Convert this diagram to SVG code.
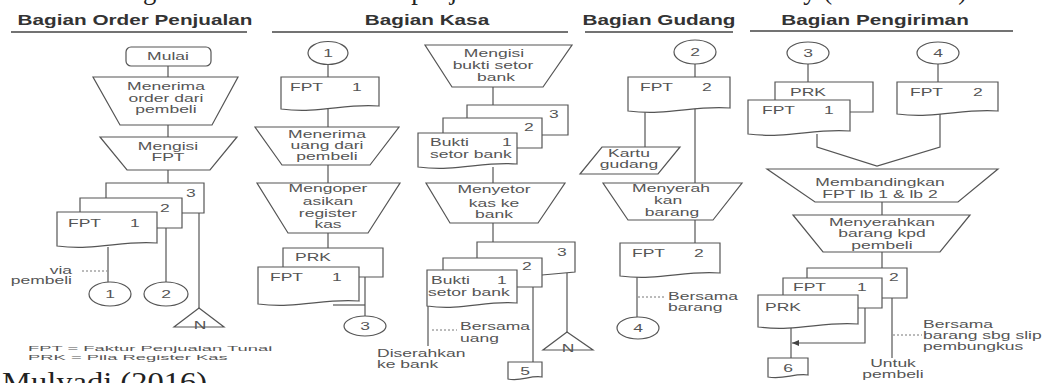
<svg xmlns="http://www.w3.org/2000/svg" width="1044" height="383" viewBox="0 0 1044 383">
<style>
.s{fill:none;stroke:#555;stroke-width:1.2}
.f{fill:#fff;stroke:#555;stroke-width:1.2}
.d{fill:none;stroke:#777;stroke-width:1;stroke-dasharray:2 2}
.u{stroke:#444;stroke-width:1.6}
.t{font-family:"Liberation Sans",Arial,sans-serif;font-size:10px;fill:#555}
.m{text-anchor:middle}
.h{font-family:"Liberation Sans",Arial,sans-serif;font-size:14px;font-weight:bold;fill:#333;text-anchor:middle}
.sf{font-family:"Liberation Serif","Times New Roman",serif;font-size:26.7px;fill:#222}
</style>
<defs>
<marker id="ar" markerWidth="8" markerHeight="8" refX="7" refY="4" orient="auto" markerUnits="userSpaceOnUse">
<path d="M0,1 L7,4 L0,7 Z" fill="#444"/>
</marker>
</defs>
<rect width="1044" height="383" fill="#fff"/>

<text class="sf" x="31" y="-1">Berikut bagan alir dokumen sistem penjualan tunai dari Cash on Delivery (Gambar 4.1)</text>
<text class="sf" x="2" y="391" textLength="205" lengthAdjust="spacingAndGlyphs">Mulyadi (2016)</text>

<g id="headers">
<text class="h" transform="translate(135,25) scale(1.48,1)">Bagian Order Penjualan</text>
<line class="u" x1="11" y1="32" x2="247" y2="32"/>
<text class="h" transform="translate(427,25) scale(1.48,1)">Bagian Kasa</text>
<line class="u" x1="272" y1="32" x2="568" y2="32"/>
<text class="h" transform="translate(659,25) scale(1.48,1)">Bagian Gudang</text>
<line class="u" x1="585" y1="32" x2="733" y2="32"/>
<text class="h" transform="translate(875,25) scale(1.48,1)">Bagian Pengiriman</text>
<line class="u" x1="750" y1="31" x2="1013" y2="31"/>
</g>

<g id="connectors">
<line class="s" x1="168" y1="66" x2="168" y2="77"/>
<line class="s" x1="168" y1="125" x2="168" y2="137"/>
<line class="s" x1="168" y1="170" x2="168" y2="183"/>
<line class="s" x1="108" y1="247" x2="108" y2="282"/>
<line class="d" x1="82" y1="271" x2="107" y2="271"/>
<line class="s" x1="166" y1="228" x2="166" y2="282"/>
<line class="s" x1="199" y1="213" x2="199" y2="308"/>

<line class="s" x1="328" y1="65" x2="328" y2="77"/>
<line class="s" x1="328" y1="109" x2="328" y2="127"/>
<line class="s" x1="328" y1="165" x2="328" y2="183"/>
<line class="s" x1="328" y1="233" x2="328" y2="248"/>
<polyline class="s" points="333,305 365,305"/>
<line class="s" x1="365" y1="277" x2="365" y2="316"/>
<line class="s" x1="493" y1="87" x2="493" y2="105"/>
<line class="s" x1="493" y1="167" x2="493" y2="183"/>
<line class="s" x1="493" y1="223" x2="493" y2="242"/>
<line class="s" x1="567" y1="273" x2="567" y2="332"/>
<line class="s" x1="533" y1="287" x2="533" y2="362"/>
<line class="s" x1="428" y1="306" x2="428" y2="346"/>
<line class="d" x1="432" y1="330" x2="457" y2="330"/>

<line class="s" x1="695" y1="64" x2="695" y2="77"/>
<line class="s" x1="645" y1="111" x2="645" y2="147"/>
<line class="s" x1="695" y1="108" x2="695" y2="183"/>
<line class="s" x1="695" y1="220" x2="695" y2="243"/>
<line class="s" x1="637" y1="276" x2="637" y2="317"/>
<line class="d" x1="638" y1="297" x2="665" y2="297"/>

<line class="s" x1="808" y1="64" x2="808" y2="82"/>
<line class="s" x1="938" y1="64" x2="938" y2="82"/>
<polyline class="s" points="817,134 817,147 877,166 940,147 940,114"/>
<line class="s" x1="882" y1="202" x2="882" y2="215"/>
<line class="s" x1="882" y1="252" x2="882" y2="268"/>
<line class="s" x1="791" y1="327" x2="791" y2="358"/>
<polyline class="s" points="865,308 865,343 792,343" marker-end="url(#ar)"/>
<line class="s" x1="892" y1="298" x2="892" y2="358"/>
<line class="d" x1="893" y1="335" x2="922" y2="335"/>
</g>

<g id="op-mulai">
<rect class="f" x="126" y="47" width="85" height="19" rx="5"/>
<text class="t m" transform="translate(168,60) scale(1.75,1)">Mulai</text>
</g>
<g id="op-menerima">
<polygon class="f" points="93,77 238,77 212,125 120,125"/>
<text class="t m" transform="translate(166,90) scale(1.75,1)">Menerima</text>
<text class="t m" transform="translate(166,101.5) scale(1.75,1)">order dari</text>
<text class="t m" transform="translate(166,113) scale(1.75,1)">pembeli</text>
</g>
<g id="op-mengisi">
<polygon class="f" points="100,137 237,137 210,170 127,170"/>
<text class="t m" transform="translate(168,150) scale(1.75,1)">Mengisi</text>
<text class="t m" transform="translate(168,161) scale(1.75,1)">FPT</text>
</g>
<g id="op-fpt">
<polyline class="s" points="106,198 106,183 204,183 204,213 182,213"/>
<text class="t" transform="translate(186,197) scale(1.75,1)">3</text>
<polyline class="f" points="80,212 80,198 182,198 182,228 157,228"/>
<text class="t" transform="translate(160,212) scale(1.75,1)">2</text>
<path class="f" d="M57,212H157V243C122,240 97,251 57,246Z"/>
<text class="t" transform="translate(68,227) scale(1.75,1)">FPT</text>
<text class="t" transform="translate(130,227) scale(1.75,1)">1</text>
</g>
<g id="op-via">
<text class="t" text-anchor="end" transform="translate(72,274) scale(1.75,1)">via</text>
<text class="t" text-anchor="end" transform="translate(72,284) scale(1.75,1)">pembeli</text>
</g>
<g id="op-c1"><ellipse class="f" cx="110" cy="294" rx="21" ry="12"/><text class="t m" transform="translate(110,298) scale(1.75,1)">1</text></g>
<g id="op-c2"><ellipse class="f" cx="166" cy="294" rx="22" ry="12"/><text class="t m" transform="translate(166,298) scale(1.75,1)">2</text></g>
<g id="op-n"><polygon class="f" points="199,308 224,327 174,327"/><text class="t m" transform="translate(200,329) scale(1.75,1)">N</text></g>
<g id="legend">
<text class="t" style="font-size:8px" transform="translate(28,351) scale(2.3,1)">FPT = Faktur Penjualan Tunai</text>
<text class="t" style="font-size:8px" transform="translate(28,360) scale(2.3,1)">PRK = Pila Register Kas</text>
</g>

<g id="k-c1"><ellipse class="f" cx="328" cy="53" rx="20" ry="11.5"/><text class="t m" transform="translate(328,57) scale(1.75,1)">1</text></g>
<g id="k-fpt1">
<path class="f" d="M281,77H379V106C345,103 320,114 281,109Z"/>
<text class="t" transform="translate(290,91) scale(1.75,1)">FPT</text>
<text class="t" transform="translate(352,91) scale(1.75,1)">1</text>
</g>
<g id="k-menerima">
<polygon class="f" points="255,127 399,127 370,165 282,165"/>
<text class="t m" transform="translate(327,138) scale(1.75,1)">Menerima</text>
<text class="t m" transform="translate(327,149) scale(1.75,1)">uang dari</text>
<text class="t m" transform="translate(327,160) scale(1.75,1)">pembeli</text>
</g>
<g id="k-mengoper">
<polygon class="f" points="257,183 400,183 368,233 288,233"/>
<text class="t m" transform="translate(328,192) scale(1.75,1)">Mengoper</text>
<text class="t m" transform="translate(328,205) scale(1.75,1)">asikan</text>
<text class="t m" transform="translate(328,216.5) scale(1.75,1)">register</text>
<text class="t m" transform="translate(328,228) scale(1.75,1)">kas</text>
</g>
<g id="k-prk">
<polyline class="f" points="283,267 283,248 383,248 383,277 359,277"/>
<text class="t" transform="translate(295,261) scale(1.75,1)">PRK</text>
<path class="f" d="M258,267H359V301C324,298 298,309 258,304Z"/>
<text class="t" transform="translate(270,281) scale(1.75,1)">FPT</text>
<text class="t" transform="translate(332,281) scale(1.75,1)">1</text>
</g>
<g id="k-c3"><ellipse class="f" cx="365" cy="326" rx="21" ry="10"/><text class="t m" transform="translate(365,330) scale(1.75,1)">3</text></g>

<g id="k-mengisi">
<polygon class="f" points="425,45 572,45 543,87 452,87"/>
<text class="t m" transform="translate(494,57) scale(1.75,1)">Mengisi</text>
<text class="t m" transform="translate(493,69) scale(1.75,1)">bukti setor</text>
<text class="t m" transform="translate(496,81) scale(1.75,1)">bank</text>
</g>
<g id="k-bukti1">
<polyline class="f" points="467,118 467,105 568,105 568,135 542,135"/>
<text class="t" transform="translate(549,118) scale(1.75,1)">3</text>
<polyline class="f" points="443,133 443,118 542,118 542,148 517,148"/>
<text class="t" transform="translate(524,131) scale(1.75,1)">2</text>
<path class="f" d="M418,133H517V164C482,161 458,172 418,167Z"/>
<text class="t" transform="translate(430,146) scale(1.75,1)">Bukti</text>
<text class="t" transform="translate(502,146) scale(1.75,1)">1</text>
<text class="t" transform="translate(430,158) scale(1.75,1)">setor bank</text>
</g>
<g id="k-menyetor">
<polygon class="f" points="426,183 565,183 538,223 450,223"/>
<text class="t m" transform="translate(494,193) scale(1.75,1)">Menyetor</text>
<text class="t m" transform="translate(494,207) scale(1.75,1)">kas ke</text>
<text class="t m" transform="translate(494,218) scale(1.75,1)">bank</text>
</g>
<g id="k-bukti2">
<polyline class="f" points="477,258 477,242 575,242 575,272 542,275"/>
<text class="t" transform="translate(557,256) scale(1.75,1)">3</text>
<polyline class="f" points="443,270 443,258 542,258 542,287 517,287"/>
<text class="t" transform="translate(522,270) scale(1.75,1)">2</text>
<path class="f" d="M427,270H517V303C486,300 463,311 427,306Z"/>
<text class="t" transform="translate(431,284) scale(1.75,1)">Bukti</text>
<text class="t" transform="translate(497,284) scale(1.75,1)">1</text>
<text class="t" transform="translate(428,296) scale(1.75,1)">setor bank</text>
</g>
<g id="k-n"><polygon class="f" points="567,332 593,350 543,350"/><text class="t m" transform="translate(568,352) scale(1.75,1)">N</text></g>
<g id="k-5">
<path class="f" d="M508,362H542V377C530,375 521,382 508,379Z"/>
<text class="t m" transform="translate(525,375) scale(1.75,1)">5</text>
</g>
<g id="k-notes">
<text class="t" transform="translate(377,357) scale(1.75,1)">Diserahkan</text>
<text class="t" transform="translate(377,368) scale(1.75,1)">ke bank</text>
<text class="t" transform="translate(460,330) scale(1.75,1)">Bersama</text>
<text class="t" transform="translate(460,342) scale(1.75,1)">uang</text>
</g>

<g id="g-c2"><ellipse class="f" cx="695" cy="52" rx="21" ry="12"/><text class="t m" transform="translate(695,56) scale(1.75,1)">2</text></g>
<g id="g-fpt2a">
<path class="f" d="M628,77H730V108C694,105 669,116 628,111Z"/>
<text class="t" transform="translate(640,91) scale(1.75,1)">FPT</text>
<text class="t" transform="translate(702,91) scale(1.75,1)">2</text>
</g>
<g id="g-kartu">
<polygon class="f" points="602,147 680,147 658,174 580,174"/>
<text class="t m" transform="translate(629,157) scale(1.75,1)">Kartu</text>
<text class="t m" transform="translate(629,168) scale(1.75,1)">gudang</text>
</g>
<g id="g-menyerah">
<polygon class="f" points="603,183 742,183 713,220 628,220"/>
<text class="t m" transform="translate(671,192) scale(1.75,1)">Menyerah</text>
<text class="t m" transform="translate(668,204) scale(1.75,1)">kan</text>
<text class="t m" transform="translate(672,215.5) scale(1.75,1)">barang</text>
</g>
<g id="g-fpt2b">
<path class="f" d="M620,243H720V273C685,270 660,281 620,276Z"/>
<text class="t" transform="translate(632,257) scale(1.75,1)">FPT</text>
<text class="t" transform="translate(694,257) scale(1.75,1)">2</text>
</g>
<g id="g-c4"><ellipse class="f" cx="638" cy="328" rx="21" ry="11"/><text class="t m" transform="translate(638,332) scale(1.75,1)">4</text></g>
<g id="g-note">
<text class="t" transform="translate(668,300) scale(1.75,1)">Bersama</text>
<text class="t" transform="translate(668,311) scale(1.75,1)">barang</text>
</g>

<g id="p-c3"><ellipse class="f" cx="808" cy="53" rx="21" ry="11"/><text class="t m" transform="translate(808,57) scale(1.75,1)">3</text></g>
<g id="p-c4"><ellipse class="f" cx="938" cy="53" rx="21" ry="11"/><text class="t m" transform="translate(938,57) scale(1.75,1)">4</text></g>
<g id="p-prk-fpt1">
<polyline class="f" points="775,100 775,82 873,82 873,112 850,112"/>
<text class="t" transform="translate(790,96) scale(1.75,1)">PRK</text>
<path class="f" d="M748,100H850V131C814,128 789,139 748,134Z"/>
<text class="t" transform="translate(762,114) scale(1.75,1)">FPT</text>
<text class="t" transform="translate(824,114) scale(1.75,1)">1</text>
</g>
<g id="p-fpt2">
<path class="f" d="M897,82H998V111C963,108 937,119 897,114Z"/>
<text class="t" transform="translate(910,96) scale(1.75,1)">FPT</text>
<text class="t" transform="translate(973,96) scale(1.75,1)">2</text>
</g>
<g id="p-banding">
<polygon class="f" points="767,169 998,169 958,202 815,202"/>
<text class="t m" transform="translate(880,186) scale(1.75,1)">Membandingkan</text>
<text class="t m" transform="translate(880,198) scale(1.75,1)">FPT lb 1 &amp; lb 2</text>
</g>
<g id="p-menyerahkan">
<polygon class="f" points="793,215 970,215 940,252 823,252"/>
<text class="t m" transform="translate(882,226) scale(1.75,1)">Menyerahkan</text>
<text class="t m" transform="translate(882,237) scale(1.75,1)">barang kpd</text>
<text class="t m" transform="translate(882,249) scale(1.75,1)">pembeli</text>
</g>
<g id="p-docs">
<polyline class="f" points="807,278 807,268 907,268 907,298 882,298"/>
<text class="t" transform="translate(889,281) scale(1.75,1)">2</text>
<polyline class="f" points="783,295 783,278 882,278 882,308 858,308"/>
<text class="t" transform="translate(793,291) scale(1.75,1)">FPT</text>
<text class="t" transform="translate(857,291) scale(1.75,1)">1</text>
<path class="f" d="M758,295H858V324C823,321 798,332 758,327Z"/>
<text class="t" transform="translate(765,311) scale(1.75,1)">PRK</text>
</g>
<g id="p-6">
<path class="f" d="M768,358H808V375C794,373 784,380 768,377Z"/>
<text class="t m" transform="translate(788,372) scale(1.75,1)">6</text>
</g>
<g id="p-notes">
<text class="t m" transform="translate(893,367) scale(1.75,1)">Untuk</text>
<text class="t m" transform="translate(893,378) scale(1.75,1)">pembeli</text>
<text class="t" transform="translate(923,328) scale(1.75,1)">Bersama</text>
<text class="t" transform="translate(923,339) scale(1.75,1)">barang sbg slip</text>
<text class="t" transform="translate(923,350) scale(1.75,1)">pembungkus</text>
</g>
</svg>
